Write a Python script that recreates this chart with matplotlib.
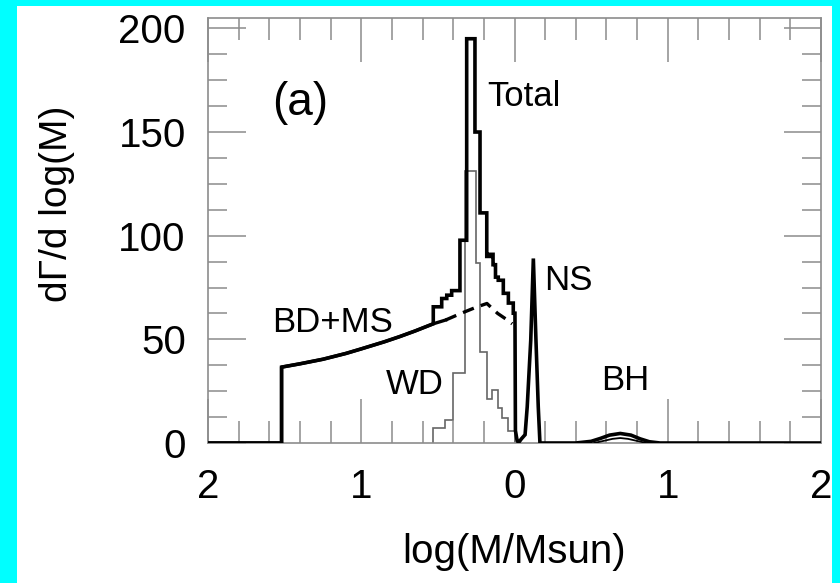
import numpy as np
import matplotlib
matplotlib.use("Agg")
import matplotlib.pyplot as plt
from matplotlib.patches import Rectangle
from matplotlib.ticker import MultipleLocator, FixedLocator

plt.rcParams['font.family'] = ['Liberation Sans', 'DejaVu Sans']

# ---- data ----
# BD+MS component (solid part, then dashed under the WD bump)
bdms_x = [-2.0, -1.52, -1.52, -1.4, -1.25, -1.1, -1.0, -0.85, -0.75, -0.65, -0.53, -0.45]
bdms_y = [0, 0, 36.6, 38.2, 40.4, 43.2, 45.4, 48.8, 51.3, 54.0, 57.5, 59.3]
bdms_dash_x = [-0.45, -0.35, -0.25, -0.18, -0.11, -0.05, -0.015]
bdms_dash_y = [59.3, 62.5, 65.5, 67.3, 62.5, 59.5, 57.5]

# white dwarfs (histogram)
wd_edges = [-0.530, -0.453, -0.401, -0.320, -0.251, -0.225, -0.181,
            -0.148, -0.108, -0.083, -0.042, 0.003]
wd_vals = [7, 11, 34, 131, 87, 44, 21, 25.5, 17, 12, 6]

# total, histogram part
tot_edges = [-0.530, -0.475, -0.442, -0.410, -0.356, -0.312, -0.258, -0.225,
             -0.181, -0.160, -0.140, -0.124, -0.106, -0.073, -0.040, -0.008, 0.003]
tot_vals = [65.7, 69.7, 71.3, 73.5, 97.8, 195, 150, 111,
            90, 91, 86, 80, 78.5, 72.2, 67.5, 62.6]

# total after the histogram: dip, NS spike, BH bump
tail_x = [0.003, 0.006, 0.015, 0.025, 0.045, 0.069, 0.083, 0.106, 0.123,
          0.140, 0.155, 0.166, 0.40, 0.50, 0.56, 0.62, 0.69, 0.76, 0.82, 0.88, 0.95, 2.0]
tail_y = [62.6, 6, 2, 0, 2, 4, 17.5, 49.6, 89,
          49.6, 17.5, 0, 0, 0.8, 2.2, 3.8, 4.6, 3.8, 2.0, 0.6, 0, 0]

# BH component alone (inner thin curve)
bh_x = [0.52, 0.58, 0.64, 0.69, 0.74, 0.80, 0.86]
bh_y = [0, 1.0, 2.0, 2.4, 2.0, 1.0, 0]

xtick_pos = [-2, -1, 0, 1, 2]
xtick_labels = ['2', '1', '0', '1', '2']

# ---- figure ----
fig = plt.figure(figsize=(8.4, 5.83), dpi=100, facecolor='#00ffff')
fig.patches.append(Rectangle((17/840, 0), (832-17)/840, (583-6)/583,
                             transform=fig.transFigure, facecolor='white',
                             edgecolor='none', zorder=-5))
ax = fig.add_axes([208/840, 1-443/583, (821-208)/840, (443-18)/583])
ax.set_facecolor('none')

# total curve = BD+MS lead + histogram + tail
lead_n = bdms_x.index(-0.53) + 1
sx = np.repeat(tot_edges, 2)[1:-1]
sy = np.repeat(tot_vals, 2)
tot_x = np.concatenate([bdms_x[:lead_n], sx, tail_x])
tot_y = np.concatenate([bdms_y[:lead_n], sy, tail_y])

ax.plot(tot_x, tot_y, color='black', lw=2.6, solid_joinstyle='miter', zorder=4)
ax.plot(bdms_x, bdms_y, color='black', lw=2.4, zorder=3)
ax.plot(bdms_dash_x, bdms_dash_y, color='black', lw=2.4, dashes=(3.5, 2.2), zorder=3)
ax.stairs(wd_vals, wd_edges, baseline=0, color='#666666', lw=1.2, zorder=2)
ax.plot(bh_x, bh_y, color='black', lw=1.3, zorder=3)

ax.set_xlim(-2, 2)
ax.set_ylim(0, 205)

ax.xaxis.set_major_locator(FixedLocator(xtick_pos))
ax.set_xticklabels(xtick_labels)
ax.xaxis.set_minor_locator(MultipleLocator(0.2))
ax.yaxis.set_major_locator(MultipleLocator(50))
ax.yaxis.set_minor_locator(MultipleLocator(12.5))

tc = '#8c8c8c'
ax.tick_params(axis='x', which='major', direction='in', length=32, width=1.1,
               color=tc, top=True, labelsize=29, pad=18)
ax.tick_params(axis='x', which='minor', direction='in', length=16, width=1.1,
               color=tc, top=True)
ax.tick_params(axis='y', which='major', direction='in', length=27, width=1.1,
               color=tc, right=True, labelsize=29, pad=16)
ax.tick_params(axis='y', which='minor', direction='in', length=14, width=1.1,
               color=tc, right=True)
for s in ax.spines.values():
    s.set_color(tc)
    s.set_linewidth(1.2)

ax.set_xlabel('log(M/Msun)', fontsize=29)
ax.set_ylabel('d\u0393/d log(M)', fontsize=28)
ax.xaxis.set_label_coords(0.50, -0.212)
ax.yaxis.set_label_coords(-0.217, 0.562)

ax.text(-1.40, 164, '(a)', fontsize=33, ha='center', va='center')
ax.text(-0.175, 167, 'Total', fontsize=25, ha='left', va='center')
ax.text(-1.19, 58, 'BD+MS', fontsize=25, ha='center', va='center')
ax.text(-0.65, 28, 'WD', fontsize=25, ha='center', va='center')
ax.text(0.35, 78.5, 'NS', fontsize=25, ha='center', va='center')
ax.text(0.72, 30, 'BH', fontsize=25, ha='center', va='center')

fig.savefig('out.png', dpi=100, facecolor=fig.get_facecolor())
